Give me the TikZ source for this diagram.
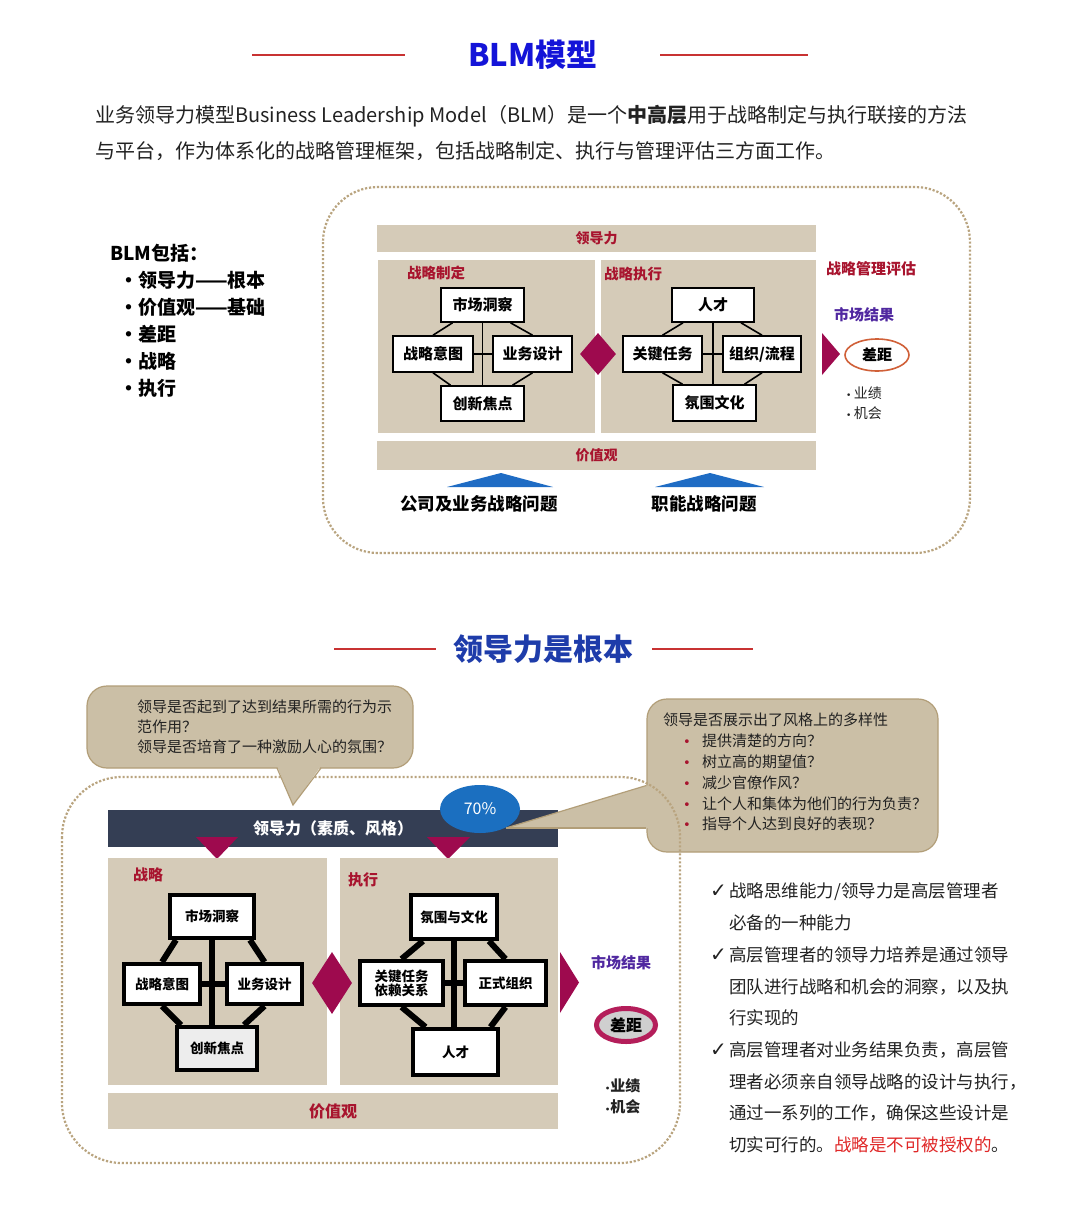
\documentclass[tikz,border=0pt]{standalone}
\usepackage{fontspec}
\setmainfont{Noto Sans CJK SC}
\newfontfamily\symfont{DejaVu Sans}
\usetikzlibrary{arrows.meta,calc,shapes.geometric}
\newcommand{\fsz}[2]{\fontsize{#1}{#2}\selectfont}
\newcommand{\tick}{\makebox[19pt][l]{\symfont\fsz{20}{20}✓}}
\newcommand{\dotitem}{\hspace*{20pt}\makebox[19pt][l]{\symfont\fsz{13}{13}\color{labelRed}•}}
\definecolor{panelTan}{HTML}{D5CBB8}
\definecolor{calloutTan}{HTML}{CBBFA6}
\definecolor{calloutEdge}{HTML}{B29E78}
\definecolor{dotTan}{HTML}{B9A47F}
\definecolor{gemRed}{HTML}{9E0A4E}
\definecolor{labelRed}{HTML}{A8142E}
\definecolor{resultPurple}{HTML}{5028A0}
\definecolor{bandNavy}{HTML}{343E54}
\definecolor{ovalBlue}{HTML}{1B6FC0}
\definecolor{arrowBlue}{HTML}{1F6CC4}
\definecolor{titleBlue}{HTML}{1414D8}
\definecolor{titleNavy}{HTML}{1E3CAA}
\definecolor{ruleRed}{HTML}{C83232}
\definecolor{gapOrange}{HTML}{D06038}
\definecolor{gapRose}{HTML}{B41E5A}
\definecolor{warnRed}{HTML}{E02828}
\definecolor{textGray}{HTML}{222222}
\tikzset{
    >=Stealth,
    blm/.style={
        headline/.append style={font=\bfseries\fsz{31}{34},inner sep=0},
        redrule/.append style={draw=ruleRed,line width=2.2},
        para/.append style={font=\fsz{20}{22},text=textGray,inner sep=0},
        dotframe/.append style={draw=dotTan,line width=2.2,dash pattern=on 2.2pt off 1.8pt},
        panelbox/.append style={fill=panelTan,inner sep=0},
        bandbox/.append style={fill=panelTan,text=labelRed,font=\bfseries\fsz{14}{16},inner sep=0},
        sect/.append style={text=labelRed,font=\bfseries\fsz{14.5}{16},inner sep=0},
        cardS/.append style={draw,line width=1.6,fill=white,font=\bfseries\fsz{15}{17},inner sep=0},
        cardL/.append style={draw,line width=4,fill=white,font=\bfseries\fsz{13.5}{15},align=center,inner sep=0},
        link/.append style={line width=1.6},
        linkL/.append style={line width=6},
        gem/.append style={diamond,fill=gemRed,inner sep=0},
        result/.append style={text=resultPurple,font=\bfseries\fsz{15}{17},inner sep=0},
        callout/.append style={fill=calloutTan,draw=calloutEdge,line width=1.2,rounded corners=20,inner sep=0},
        note/.append style={font=\fsz{15}{20},text=textGray,align=left,inner sep=0}
    }
}
\begin{document}
\begin{tikzpicture}[blm,x=1pt,y=-1pt]
    \useasboundingbox (0,0) rectangle (1080,1212);
    \fill[white] (0,0) rectangle (1080,1212);

    % ---- BLM model
    \node[headline,text=titleBlue] (blmtitle) at (533,55) {BLM模型};
    \draw[redrule] (252,55) -- (405,55);
    \draw[redrule] (660,55) -- (808,55);
    \node[para,anchor=west] (intro1) at (95,116) {业务领导力模型Business Leadership Model（BLM）是一个\textbf{中高层}用于战略制定与执行联接的方法};
    \node[para,anchor=west] (intro2) at (95,151) {与平台，作为体系化的战略管理框架，包括战略制定、执行与管理评估三方面工作。};

    \node[font=\bfseries\fsz{19}{27},align=left,anchor=north west,inner sep=0] (parts) at (110,244)
        {BLM包括：\\\hspace*{9pt}・领导力——根本\\\hspace*{9pt}・价值观——基础\\\hspace*{9pt}・差距\\\hspace*{9pt}・战略\\\hspace*{9pt}・执行};

    \draw[dotframe,rounded corners=55] (323,187) rectangle (970,553);

    \node[bandbox,minimum width=439,minimum height=27] (lead) at (596.5,238.5) {领导力};
    \node[panelbox,minimum width=217,minimum height=173] (plan) at (486.5,346.5) {};
    \node[panelbox,minimum width=215,minimum height=173] (exec) at (708.5,346.5) {};
    \node[bandbox,minimum width=439,minimum height=29] (values) at (596.5,455.5) {价值观};
    \node[sect] (plantag) at (436,273) {战略制定};
    \node[sect] (exectag) at (633,274) {战略执行};

    \node[cardS,minimum width=83,minimum height=34] (mkt) at (482.5,305) {市场洞察};
    \node[cardS,minimum width=80,minimum height=36] (intent) at (433,354) {战略意图};
    \node[cardS,minimum width=79,minimum height=36] (design) at (532.5,354) {业务设计};
    \node[cardS,minimum width=83,minimum height=35] (innov) at (482.5,403.5) {创新焦点};
    \draw[link] (mkt) -- (innov);
    \draw[link] (intent) -- (design);
    \draw[link] ($(mkt.south)+(-30,0)$) -- (intent.north);
    \draw[link] ($(mkt.south)+(28,0)$) -- (design.north);
    \draw[link] (intent.south) -- ($(innov.north)+(-32,0)$);
    \draw[link] (design.south) -- ($(innov.north)+(30,0)$);

    \node[cardS,minimum width=82,minimum height=34] (talent) at (713,305) {人才};
    \node[cardS,minimum width=79,minimum height=36] (task) at (662.5,354) {关键任务};
    \node[cardS,minimum width=78,minimum height=36] (org) at (762,354) {组织/流程};
    \node[cardS,minimum width=83,minimum height=36] (climate) at (714.5,403) {氛围文化};
    \draw[link] (talent) -- (talent |- climate.north);
    \draw[link] (task) -- (org);
    \draw[link] ($(talent.south)+(-30,0)$) -- (task.north);
    \draw[link] ($(talent.south)+(28,0)$) -- (org.north);
    \draw[link] (task.south) -- ($(climate.north)+(-32,0)$);
    \draw[link] (org.south) -- ($(climate.north)+(30,0)$);

    \node[gem,minimum width=36,minimum height=42] (gemA) at (598,354) {};
    \fill[gemRed] (822,333) -- (840,354) -- (822,375) -- cycle;

    \node[sect,font=\bfseries\fsz{15}{17}] (evaltag) at (871,269) {战略管理评估};
    \node[result] (marketA) at (864,315) {市场结果};
    \node[ellipse,draw=gapOrange,line width=1.6,fill=white,minimum width=64,minimum height=32,inner sep=0,font=\bfseries\fsz{15}{17}] (gapA) at (877,355) {差距};
    \node[font=\fsz{14}{20},align=left,anchor=north west,inner sep=0,text=textGray] (perfA) at (846,387)
        {{\symfont\fsz{9}{9}•}\,业绩\\{\symfont\fsz{9}{9}•}\,机会};

    \fill[arrowBlue] (447,487) -- (501,473) -- (553,487) -- cycle;
    \fill[arrowBlue] (655,487) -- (710,473) -- (764,487) -- cycle;
    \node[font=\bfseries\fsz{17.5}{20},inner sep=0] (corpq) at (479,504) {公司及业务战略问题};
    \node[font=\bfseries\fsz{17.5}{20},inner sep=0] (funcq) at (704,504) {职能战略问题};

    % ---- leadership is the root
    \node[headline,text=titleNavy,font=\bfseries\fsz{30}{33}] (roottitle) at (543,649) {领导力是根本};
    \draw[redrule] (334,649) -- (436,649);
    \draw[redrule] (652,649) -- (753,649);

    \node[panelbox,fill=bandNavy,text=white,font=\bfseries\fsz{16}{18},minimum width=450,minimum height=37] (leadB) at (333,828.5) {领导力（素质、风格）};
    \fill[gemRed] (196,837) -- (238,837) -- (217,859) -- cycle;
    \fill[gemRed] (427,837) -- (470,837) -- (448,859) -- cycle;

    \node[callout,minimum width=291,minimum height=153] (askB) at (792.5,775.5) {};
    \fill[calloutTan] (506,828) -- (649,785) -- (649,828) -- cycle;
    \draw[calloutEdge,line width=1.2] (506,828) -- (646.4,785.5);
    \draw[calloutEdge,line width=1.2] (506,828) -- (646.4,828);
    \node[note,font=\fsz{15}{20.8},anchor=north west] (askBtxt) at (663,713)
        {领导是否展示出了风格上的多样性\\\dotitem 提供清楚的方向？\\\dotitem 树立高的期望值？\\\dotitem 减少官僚作风？\\\dotitem 让个人和集体为他们的行为负责？\\\dotitem 指导个人达到良好的表现？};
    \node[ellipse,fill=ovalBlue,text=white,minimum width=80,minimum height=48,inner sep=0,font=\fsz{16}{18}] (share) at (480,809) {70\%};

    \draw[dotframe,rounded corners=60] (62,777) rectangle (680,1163);

    \node[callout,minimum width=326,minimum height=82] (askA) at (250,727) {};
    \fill[calloutTan] (277,766) -- (293,805) -- (321,766) -- cycle;
    \draw[calloutEdge,line width=1.2] (277,768) -- (293,805) -- (321,768);
    \node[note,anchor=north west] (askAtxt) at (137,700)
        {领导是否起到了达到结果所需的行为示\\范作用？\\领导是否培育了一种激励人心的氛围？};

    \node[panelbox,minimum width=219,minimum height=227] (planB) at (217.5,971.5) {};
    \node[panelbox,minimum width=218,minimum height=227] (execB) at (449,971.5) {};
    \node[bandbox,font=\bfseries\fsz{16}{18},minimum width=450,minimum height=36] (valuesB) at (333,1111) {价值观};
    \node[sect,font=\bfseries\fsz{15}{17}] (plantagB) at (148,875) {战略};
    \node[sect,font=\bfseries\fsz{15}{17}] (exectagB) at (363,880) {执行};

    \node[cardL,minimum width=84,minimum height=43] (mktB) at (212,916.5) {市场洞察};
    \node[cardL,minimum width=76,minimum height=40] (intentB) at (162,984) {战略意图};
    \node[cardL,minimum width=75,minimum height=40] (designB) at (264.5,984) {业务设计};
    \node[cardL,fill=black!7,minimum width=80,minimum height=43] (innovB) at (217,1048.5) {创新焦点};
    \draw[linkL] (mktB.south) -- (mktB.south |- innovB.north);
    \draw[linkL] (intentB) -- (designB);
    \draw[linkL] ($(mktB.south)+(-36,0)$) -- (intentB.north);
    \draw[linkL] ($(mktB.south)+(38,0)$) -- (designB.north);
    \draw[linkL] (intentB.south) -- ($(innovB.north)+(-36,0)$);
    \draw[linkL] (designB.south) -- ($(innovB.north)+(27,0)$);

    \node[cardL,minimum width=86,minimum height=44] (climateB) at (454,917) {氛围与文化};
    \node[cardL,font=\bfseries\fsz{13.5}{14},minimum width=83,minimum height=44] (taskB) at (401.5,983) {关键任务\\依赖关系};
    \node[cardL,minimum width=81,minimum height=44] (orgB) at (505.5,983) {正式组织};
    \node[cardL,minimum width=85,minimum height=46] (talentB) at (455.5,1052) {人才};
    \draw[linkL] (climateB.south) -- (climateB.south |- talentB.north);
    \draw[linkL] (taskB) -- (orgB);
    \draw[linkL] ($(climateB.south)+(-31,0)$) -- (taskB.north);
    \draw[linkL] ($(climateB.south)+(35,0)$) -- (orgB.north);
    \draw[linkL] (taskB.south) -- ($(talentB.north)+(-30,0)$);
    \draw[linkL] (orgB.south) -- ($(talentB.north)+(35,0)$);

    \node[gem,minimum width=40,minimum height=62] (gemB) at (332,983) {};
    \fill[gemRed] (560,952) -- (579,982.5) -- (560,1013) -- cycle;

    \node[result] (marketB) at (621,963) {市场结果};
    \node[ellipse,draw=gapRose,line width=5,fill=black!19,minimum width=59,minimum height=33,inner sep=0,font=\bfseries\fsz{16}{18}] (gapB) at (626,1025) {差距};
    \node[font=\bfseries\fsz{15}{21},align=left,anchor=north west,inner sep=0,text=textGray] (perfB) at (605,1078)
        {{\symfont\fsz{8}{8}•}业绩\\{\symfont\fsz{8}{8}•}机会};

    \node[note,font=\fsz{17.5}{31.7},anchor=north west] (points) at (710,883)
        {\tick 战略思维能力/领导力是高层管理者\\\hspace*{19pt}必备的一种能力\\
         \tick 高层管理者的领导力培养是通过领导\\\hspace*{19pt}团队进行战略和机会的洞察，以及执\\\hspace*{19pt}行实现的\\
         \tick 高层管理者对业务结果负责，高层管\\\hspace*{19pt}理者必须亲自领导战略的设计与执行，\\\hspace*{19pt}通过一系列的工作，确保这些设计是\\\hspace*{19pt}切实可行的。\textcolor{warnRed}{战略是不可被授权的}。};
\end{tikzpicture}
\end{document}
